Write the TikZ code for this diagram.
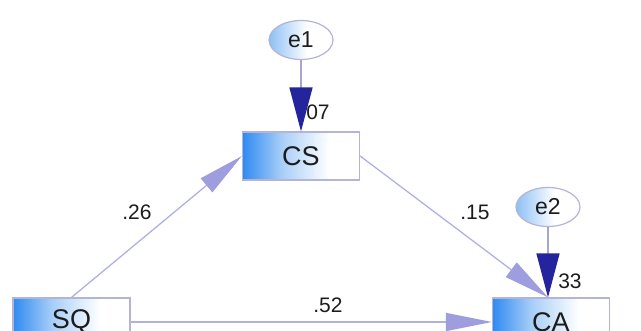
\documentclass[tikz,border=0pt]{standalone}
\usepackage{fontspec}
\setmainfont{Liberation Sans}
\usetikzlibrary{arrows.meta,shapes.geometric}

\definecolor{boxblue}{HTML}{2F8BF0}
\definecolor{boxmid}{HTML}{A9CFF8}
\definecolor{ellblue}{HTML}{8DC0F4}
\definecolor{rim}{HTML}{B4B4D6}
\definecolor{pathline}{HTML}{B0B0E2}
\definecolor{pathtip}{HTML}{9E9EDE}
\definecolor{errtip}{HTML}{24249C}
\definecolor{ink}{HTML}{1C1C1C}

% left-to-right fills: observed variables and error terms
\pgfdeclarehorizontalshading{varshade}{100bp}{color(0bp)=(boxblue); color(25bp)=(boxblue); color(42bp)=(boxmid); color(62bp)=(white); color(100bp)=(white)}
\pgfdeclarehorizontalshading{errshade}{100bp}{color(0bp)=(ellblue); color(25bp)=(ellblue); color(55bp)=(white); color(100bp)=(white)}

\tikzset{
  var/.style={draw=rim, line width=1.2pt, shading=varshade, minimum width=117pt,
    minimum height=48pt, inner sep=0pt, font=\fontsize{27}{27}\selectfont, text=ink},
  err/.style={draw=rim, line width=1.2pt, shading=errshade, ellipse,
    minimum width=64pt, minimum height=39pt, inner sep=0pt,
    font=\fontsize{23}{23}\selectfont, text=ink},
  path/.style={draw=pathline, line width=1.3pt,
    -{Triangle[length=46pt, width=18pt, color=pathtip]}},
  errpath/.style={draw=pathline!80!gray, line width=1.3pt,
    -{Triangle[length=44pt, width=23pt, color=errtip]}},
  coef/.style={font=\fontsize{21}{21}\selectfont, text=ink, inner sep=0pt}
}

\begin{document}
\begin{tikzpicture}[x=1pt, y=-1pt]
  \useasboundingbox (0,0) rectangle (641,331);
  \clip (0,0) rectangle (641,331);

  % variables
  \node[var] (SQ) at (71.5,322) {SQ};
  \node[var] (CS) at (301,156) {CS};
  \node[var] (CA) at (551,322) {CA};

  % error terms
  \node[err] (e1) at (301,40) {e1};
  \node[err] (e2) at (548,207) {e2};
  \coordinate (CAtop) at (e2.south |- CA.north);

  % structural paths
  \draw[path] (SQ.north) -- (CS.west);
  \draw[path] (CS.east) -- (CAtop);
  \draw[path] (SQ.east) -- (CA.west);

  % error paths
  \draw[errpath] (e1.south) -- (CS.north);
  \draw[errpath] (e2.south) -- (CAtop);

  % coefficients
  \node[coef] (c26) at (137,212) {.26};
  \node[coef] (c15) at (475,212) {.15};
  \node[coef] (c52) at (328,305) {.52};
  \node[coef] (c07) at (318,112) {07};
  \node[coef] (c33) at (570,281) {33};
\end{tikzpicture}
\end{document}
